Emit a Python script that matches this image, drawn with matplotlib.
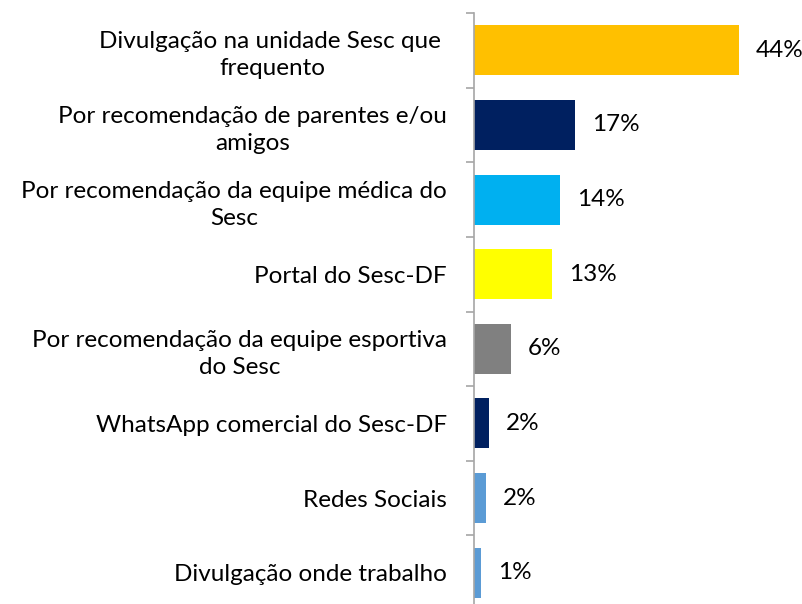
import numpy as np
import matplotlib.pyplot as plt

categories = [
    "Divulgação na unidade Sesc que \nfrequento",
    "Por recomendação de parentes e/ou\namigos",
    "Por recomendação da equipe médica do\nSesc",
    "Portal do Sesc-DF",
    "Por recomendação da equipe esportiva\ndo Sesc",
    "WhatsApp comercial do Sesc-DF",
    "Redes Sociais",
    "Divulgação onde trabalho",
]
values = [44.0, 16.8, 14.3, 13.0, 6.2, 2.5, 2.0, 1.2]
value_labels = ["44%", "17%", "14%", "13%", "6%", "2%", "2%", "1%"]
colors = ["#FFC000", "#002060", "#00B0F0", "#FFFF00",
          "#808080", "#002060", "#5B9BD5", "#5B9BD5"]

plt.rcParams['font.family'] = ['Lato', 'DejaVu Sans']

W, H = 803, 604
fig = plt.figure(figsize=(W / 100, H / 100), dpi=100)
# axes placed in pixels: left spine at x=474, top at y=13, bottom below the figure edge
x0, x1 = 474, 790
y_top, y_bot = 13, 610
ax = fig.add_axes([x0 / W, 1 - y_bot / H, (x1 - x0) / W, (y_bot - y_top) / H])

n = len(categories)
pos = np.arange(n)
ax.barh(pos, values, height=0.67, color=colors)
ax.set_ylim(n - 0.5, -0.5)
ax.set_xlim(0, (x1 - x0) / 6.02)

for p, v, lab in zip(pos, values, value_labels):
    ax.annotate(lab, (v, p), xytext=(12, 0), textcoords='offset points',
                va='center', ha='left', fontsize=17.5, color='#000000')

ax.set_yticks(pos)
ax.set_yticklabels(categories, fontsize=17.5, multialignment='center',
                   linespacing=1.35)
ax.tick_params(axis='y', which='major', length=0, pad=19.5)
ax.set_yticks(np.arange(-0.5, n, 1), minor=True)
ax.tick_params(axis='y', which='minor', length=6, color='#A6A6A6', width=1.2)

ax.set_xticks([])
for s in ['top', 'right', 'bottom']:
    ax.spines[s].set_visible(False)
ax.spines['left'].set_color('#A6A6A6')
ax.spines['left'].set_linewidth(1.2)

fig.savefig('out.png', dpi=100)
